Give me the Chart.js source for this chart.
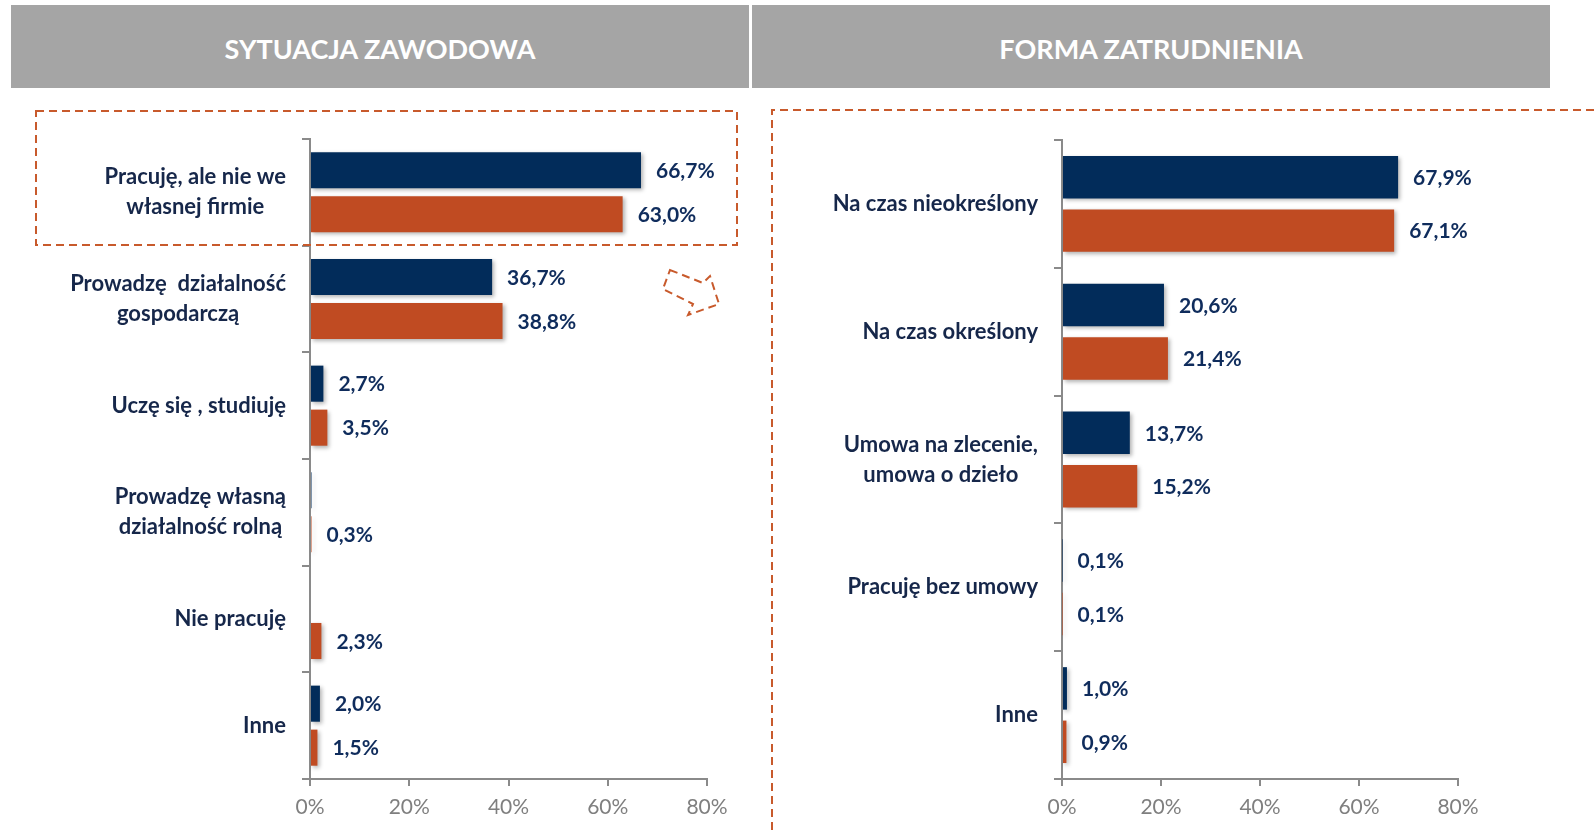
<!DOCTYPE html>
<html lang="pl">
<head>
<meta charset="utf-8">
<script src="https://cdn.jsdelivr.net/npm/chart.js@4.4.1/dist/chart.umd.min.js"></script>
<style>
    body { margin: 0; background: #fff; font-family: Lato, sans-serif; }
    .wrap { position: relative; width: 1594px; height: 832px; overflow: hidden; }
    .header {
        position: absolute; top: 5px; height: 83px; background: #a5a5a5;
        color: #fff; font: bold 27px Lato, sans-serif; line-height: 88px; text-align: center;
    }
    canvas { position: absolute; top: 0; }
    svg { position: absolute; left: 0; top: 0; pointer-events: none; }
</style>
</head>
<body>
<div class="wrap">
    <canvas id="leftChart" width="760" height="832" style="left:0"></canvas>
    <canvas id="rightChart" width="834" height="832" style="left:760px"></canvas>
    <div class="header" style="left:11px;width:738px">SYTUACJA ZAWODOWA</div>
    <div class="header" style="left:752px;width:798px">FORMA ZATRUDNIENIA</div>
    <svg width="1594" height="832">
        <g fill="none" stroke="#c85a2c" stroke-width="2" stroke-dasharray="8 5">
            <rect x="36" y="111" width="701" height="134"/>
            <path d="M1594 110 L772 110 L772 832"/>
            <path d="M670 270 L703 283 L710 276 L719 304 L688 315 L693 304 L663 289 Z"/>
        </g>
    </svg>
</div>
<script>
// --- data ---
const leftCategories = [
    ['Pracuję, ale nie we', 'własnej firmie'],
    ['Prowadzę  działalność', 'gospodarczą'],
    ['Uczę się , studiuję'],
    ['Prowadzę własną', 'działalność rolną'],
    ['Nie pracuję'],
    ['Inne']
];
const leftBlue = [66.7, 36.7, 2.7, 0.3, null, 2.0];
const leftOrange = [63.0, 38.8, 3.5, 0.3, 2.3, 1.5];
const leftBlueNoLabel = [3];

const rightCategories = [
    ['Na czas nieokreślony'],
    ['Na czas określony'],
    ['Umowa na zlecenie,', 'umowa o dzieło'],
    ['Pracuję bez umowy'],
    ['Inne']
];
const rightBlue = [67.9, 20.6, 13.7, 0.1, 1.0];
const rightOrange = [67.1, 21.4, 15.2, 0.1, 0.9];

const xTicks = [0, 20, 40, 60, 80];

const BLUE = '#022c5a';
const ORANGE = '#c04b22';
const AXIS = '#8a8a8a';

// shadows under bars, value labels and centred category labels
const barLabels = {
    id: 'barLabels',
    beforeDatasetsDraw(chart) {
        const ctx = chart.ctx;
        ctx.save();
        ctx.shadowColor = 'rgba(0, 0, 0, 0.3)';
        ctx.shadowBlur = 4;
        ctx.shadowOffsetX = 2;
        ctx.shadowOffsetY = 2;
    },
    afterDatasetsDraw(chart, args, opts) {
        const ctx = chart.ctx;
        ctx.restore();
        ctx.save();
        ctx.font = 'bold 21px Lato';
        ctx.fillStyle = '#0f2c5c';
        ctx.textBaseline = 'middle';
        ctx.textAlign = 'left';
        chart.data.datasets.forEach((ds, i) => {
            const skip = (opts.noLabel && opts.noLabel[i]) || [];
            chart.getDatasetMeta(i).data.forEach((bar, j) => {
                const v = ds.data[j];
                if (v == null || skip.includes(j)) return;
                const x = chart.scales.x.getPixelForValue(v);
                ctx.fillText(v.toFixed(1).replace('.', ',') + '%', x + 15, bar.y + 1);
            });
        });

        const yScale = chart.scales.y;
        ctx.font = 'bold 22px Lato';
        ctx.fillStyle = '#16274a';
        ctx.textAlign = 'center';
        chart.data.labels.forEach((lines, j) => {
            const w = Math.max(...lines.map(l => ctx.measureText(l).width));
            const cx = yScale.right - 24 - w / 2;
            const cy = yScale.getPixelForValue(j);
            lines.forEach((line, k) => {
                ctx.fillText(line, cx, cy + (k - (lines.length - 1) / 2) * 30);
            });
        });
        ctx.restore();
    }
};

function makeOptions(axisLeft, top, right, noLabel, catPct, barPct) {
    return {
        responsive: false,
        animation: false,
        indexAxis: 'y',
        layout: { padding: { top: top, right: right, bottom: 13, left: 0 } },
        datasets: { bar: { categoryPercentage: catPct, barPercentage: barPct } },
        plugins: {
            legend: { display: false },
            tooltip: { enabled: false },
            barLabels: { noLabel: noLabel }
        },
        scales: {
            x: {
                min: 0,
                max: 80,
                afterBuildTicks: s => { s.ticks = xTicks.map(v => ({ value: v })); },
                afterFit: s => { s.height = 40; },
                ticks: {
                    callback: v => v + '%',
                    color: '#7f7f7f',
                    font: { family: 'Lato', size: 21 },
                    padding: 9
                },
                grid: { drawOnChartArea: false, tickLength: 7, color: AXIS, lineWidth: 2 },
                border: { color: AXIS, width: 2 }
            },
            y: {
                afterFit: s => { s.width = axisLeft; },
                ticks: { display: false },
                grid: { drawOnChartArea: false, tickLength: 8, color: AXIS, lineWidth: 2, offset: true },
                border: { color: AXIS, width: 2 }
            }
        }
    };
}

const leftCtx = document.getElementById('leftChart').getContext('2d');
const leftChart = new Chart(leftCtx, {
    type: 'bar',
    data: {
        labels: leftCategories,
        datasets: [
            { data: leftBlue, backgroundColor: BLUE },
            { data: leftOrange, backgroundColor: ORANGE }
        ]
    },
    options: makeOptions(310, 139, 53, { 0: leftBlueNoLabel }, 0.825, 0.82),
    plugins: [barLabels]
});

const rightCtx = document.getElementById('rightChart').getContext('2d');
const rightChart = new Chart(rightCtx, {
    type: 'bar',
    data: {
        labels: rightCategories,
        datasets: [
            { data: rightBlue, backgroundColor: BLUE },
            { data: rightOrange, backgroundColor: ORANGE }
        ]
    },
    options: makeOptions(302, 140, 136, {}, 0.836, 0.795),
    plugins: [barLabels]
});
</script>
</body>
</html>
